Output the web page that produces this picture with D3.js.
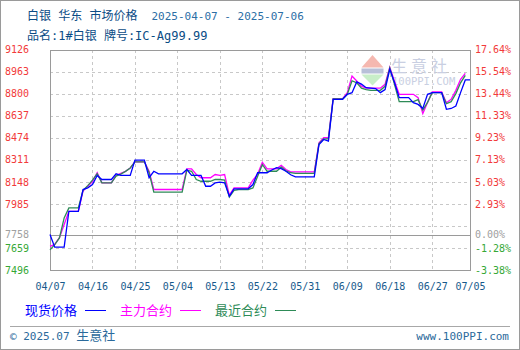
<!DOCTYPE html>
<html>
<head>
<meta charset="utf-8">
<script src="https://cdn.jsdelivr.net/npm/d3@7"></script>
<style>
  body { margin: 0; background: #fff; }
  text { font-family: "DejaVu Sans Mono", "Noto Sans CJK SC", monospace; }
</style>
</head>
<body>
<div id="chart"></div>
<script>
// 现货价格 (spot)
const spotPrice = [
  ["04-07", 7758], ["04-08", 7665], ["04-10", 7665], ["04-11", 7930], ["04-13", 7930],
  ["04-14", 8091], ["04-15", 8103], ["04-16", 8128], ["04-17", 8195], ["04-18", 8165],
  ["04-20", 8165], ["04-21", 8207], ["04-22", 8195], ["04-24", 8195], ["04-25", 8308],
  ["04-27", 8308], ["04-28", 8178], ["04-29", 8226], ["04-30", 8207], ["05-05", 8207],
  ["05-06", 8239], ["05-07", 8195], ["05-09", 8195], ["05-10", 8115], ["05-11", 8115],
  ["05-12", 8140], ["05-13", 8145], ["05-14", 8140], ["05-15", 8041], ["05-16", 8096],
  ["05-19", 8096], ["05-20", 8128], ["05-21", 8215], ["05-23", 8215], ["05-24", 8235],
  ["05-25", 8252], ["05-26", 8245], ["05-27", 8226], ["05-28", 8200], ["05-29", 8185],
  ["06-02", 8185], ["06-03", 8424], ["06-04", 8461], ["06-05", 8449], ["06-06", 8758],
  ["06-08", 8758], ["06-09", 8795], ["06-10", 8807], ["06-11", 8886], ["06-12", 8870],
  ["06-13", 8844], ["06-15", 8837], ["06-16", 8807], ["06-17", 8830], ["06-18", 8980],
  ["06-19", 8882], ["06-20", 8770], ["06-22", 8770], ["06-23", 8733], ["06-24", 8720],
  ["06-25", 8690], ["06-26", 8795], ["06-27", 8807], ["06-29", 8807], ["06-30", 8684],
  ["07-01", 8690], ["07-02", 8708], ["07-03", 8807], ["07-04", 8901], ["07-05", 8901]
]

// 主力合约 (main contract)
const mainContract = [
  ["04-07", 7671], ["04-08", 7685], ["04-09", 7735], ["04-10", 7832], ["04-11", 7930],
  ["04-13", 7930], ["04-14", 8080], ["04-15", 8115], ["04-16", 8150], ["04-17", 8215],
  ["04-18", 8140], ["04-20", 8140], ["04-21", 8195], ["04-22", 8210], ["04-23", 8225],
  ["04-24", 8250], ["04-25", 8296], ["04-27", 8296], ["04-28", 8226], ["04-29", 8091],
  ["05-05", 8091], ["05-06", 8244], ["05-07", 8244], ["05-08", 8202], ["05-09", 8178],
  ["05-11", 8178], ["05-12", 8202], ["05-13", 8195], ["05-14", 8202], ["05-15", 8050],
  ["05-16", 8103], ["05-19", 8103], ["05-20", 8160], ["05-21", 8205], ["05-22", 8292],
  ["05-23", 8244], ["05-25", 8244], ["05-26", 8269], ["05-27", 8239], ["05-28", 8222],
  ["06-02", 8222], ["06-03", 8437], ["06-04", 8474], ["06-05", 8474], ["06-06", 8763],
  ["06-08", 8763], ["06-09", 8807], ["06-10", 8930], ["06-11", 8893], ["06-12", 8854],
  ["06-13", 8840], ["06-16", 8840], ["06-17", 8869], ["06-18", 8995], ["06-19", 8891],
  ["06-20", 8795], ["06-23", 8795], ["06-24", 8770], ["06-25", 8652], ["06-26", 8735],
  ["06-27", 8812], ["06-29", 8812], ["06-30", 8733], ["07-01", 8758], ["07-02", 8824],
  ["07-03", 8906], ["07-04", 8950]
]

// 最近合约 (nearest contract)
const nearContract = [
  ["04-07", 7645], ["04-08", 7683], ["04-09", 7733], ["04-10", 7881], ["04-11", 7955],
  ["04-13", 7955], ["04-14", 8085], ["04-15", 8120], ["04-16", 8160], ["04-17", 8207],
  ["04-18", 8140], ["04-20", 8140], ["04-21", 8190], ["04-22", 8205], ["04-23", 8225],
  ["04-24", 8250], ["04-25", 8296], ["04-27", 8296], ["04-28", 8215], ["04-29", 8071],
  ["05-05", 8071], ["05-06", 8234], ["05-07", 8226], ["05-08", 8165], ["05-09", 8152],
  ["05-11", 8152], ["05-12", 8165], ["05-13", 8165], ["05-14", 8160], ["05-15", 8035],
  ["05-16", 8085], ["05-17", 8091], ["05-19", 8091], ["05-20", 8103], ["05-21", 8189],
  ["05-22", 8276], ["05-23", 8226], ["05-25", 8226], ["05-26", 8256], ["05-27", 8229],
  ["05-28", 8215], ["05-29", 8210], ["06-02", 8210], ["06-03", 8430], ["06-04", 8465],
  ["06-05", 8465], ["06-06", 8760], ["06-08", 8760], ["06-09", 8795], ["06-10", 8895],
  ["06-11", 8880], ["06-12", 8840], ["06-13", 8830], ["06-14", 8824], ["06-16", 8824],
  ["06-17", 8854], ["06-18", 8990], ["06-19", 8869], ["06-20", 8740], ["06-23", 8740],
  ["06-24", 8755], ["06-25", 8678], ["06-26", 8735], ["06-27", 8807], ["06-29", 8807],
  ["06-30", 8725], ["07-01", 8740], ["07-02", 8800], ["07-03", 8880], ["07-04", 8935]
]

const basePrice = 7758
const leftTicks = [9126, 8963, 8800, 8637, 8474, 8311, 8148, 7985, 7758, 7659, 7496]
const rightTicks = ["17.64%", "15.54%", "13.44%", "11.33%", "9.23%", "7.13%", "5.03%", "2.93%", "0.00%", "-1.28%", "-3.38%"]
const gridValues = [8963, 8800, 8637, 8474, 8311, 8148, 7985, 7822, 7659]
const xTickLabels = ["04/07", "04/16", "04/25", "05/04", "05/13", "05/22", "05/31", "06/09", "06/18", "06/27", "07/05"]

const legendItems = [
  { name: "现货价格", color: "#0000ff", data: spotPrice },
  { name: "主力合约", color: "#ff00ff", data: mainContract },
  { name: "最近合约", color: "#2e8b57", data: nearContract }
]

const width = 520, height = 350
const plot = { left: 50, right: 470, top: 49.5, bottom: 270 }

const parseDay = d3.timeParse("%Y-%m-%d")
const parseTick = d3.timeParse("%Y/%m/%d")
const tickDates = xTickLabels.map(s => parseTick("2025/" + s))

const x = d3.scaleTime()
  .domain([tickDates[0], tickDates[tickDates.length - 1]])
  .range([plot.left, plot.right])

const y = d3.scaleLinear()
  .domain([7496, 9126])
  .range([plot.bottom, plot.top])

const svg = d3.select("#chart").append("svg")
  .attr("width", width)
  .attr("height", height)

// outer frame
svg.append("rect")
  .attr("x", 0.5).attr("y", 0.5)
  .attr("width", width - 1).attr("height", height - 1)
  .attr("fill", "#fff").attr("stroke", "#9a9a9a")

// title
svg.append("text")
  .attr("x", 27).attr("y", 20)
  .attr("font-size", 12).attr("fill", "#0a4c85")
  .text("白银 华东 市场价格")
svg.append("text")
  .attr("x", 151.5).attr("y", 20)
  .attr("font-size", 11).attr("fill", "#2c6ea5")
  .text("2025-04-07 - 2025-07-06")
svg.append("text")
  .attr("x", 27).attr("y", 39.5)
  .attr("font-size", 12).attr("fill", "#0a4c85")
  .text("品名:1#白银 牌号:IC-Ag99.99")

// grid
const grid = svg.append("g")
  .attr("stroke", "#c8c8c8")
  .attr("stroke-dasharray", "3,3")
  .attr("shape-rendering", "crispEdges")

grid.selectAll(".hg")
  .data(gridValues)
  .join("line")
  .attr("x1", plot.left).attr("x2", plot.right)
  .attr("y1", d => Math.round(y(d)) + 0.5)
  .attr("y2", d => Math.round(y(d)) + 0.5)

grid.selectAll(".vg")
  .data(tickDates.slice(1, -1))
  .join("line")
  .attr("x1", d => Math.round(x(d)) + 0.5)
  .attr("x2", d => Math.round(x(d)) + 0.5)
  .attr("y1", plot.top).attr("y2", plot.bottom)

// base line (0%)
svg.append("line")
  .attr("x1", plot.left).attr("x2", plot.right)
  .attr("y1", Math.round(y(basePrice)) + 0.5)
  .attr("y2", Math.round(y(basePrice)) + 0.5)
  .attr("stroke", "#9a9a9a")
  .attr("shape-rendering", "crispEdges")

// watermark
const wm = svg.append("g")
wm.append("path")
  .attr("d", "M361.5,67.5 L372.5,55 L383.5,67.5 Z")
  .attr("fill", "#f5b8b0")
wm.append("rect")
  .attr("x", 361.5).attr("y", 68.5).attr("width", 22).attr("height", 5)
  .attr("fill", "#b8c0d8")
wm.append("path")
  .attr("d", "M361.5,74.5 L383.5,74.5 L372.5,85.5 Z")
  .attr("fill", "#c8eec8")
wm.append("text")
  .attr("x", 391).attr("y", 71.5)
  .attr("font-family", "Noto Sans CJK SC")
  .attr("font-size", 16).attr("letter-spacing", 4)
  .attr("fill", "#c9cfe2")
  .text("生意社")
wm.append("text")
  .attr("x", 392).attr("y", 85)
  .attr("font-family", "Liberation Sans")
  .attr("font-size", 10.5)
  .attr("fill", "#c9cfe2")
  .text("100PPI.COM")

// plot border
svg.append("rect")
  .attr("x", plot.left + 0.5).attr("y", Math.round(plot.top) + 0.5)
  .attr("width", plot.right - plot.left)
  .attr("height", plot.bottom - Math.round(plot.top))
  .attr("fill", "none").attr("stroke", "#9a9a9a")
  .attr("shape-rendering", "crispEdges")

// series
const line = d3.line()
  .x(d => x(parseDay("2025-" + d[0])))
  .y(d => y(d[1]))

const drawOrder = [legendItems[1], legendItems[2], legendItems[0]]
svg.selectAll(".series")
  .data(drawOrder)
  .join("path")
  .attr("fill", "none")
  .attr("stroke", d => d.color)
  .attr("stroke-width", 1.3)
  .attr("d", d => line(d.data))

const tickColor = v => v > basePrice ? "#f23a3a" : (v === basePrice ? "#a0a0a0" : "#36a836")

// left axis
const yLeft = svg.append("g")
  .attr("transform", `translate(${plot.left},0)`)
  .call(d3.axisLeft(y).tickValues(leftTicks).tickSize(0).tickPadding(21)
    .tickFormat(d3.format("d")))
yLeft.select(".domain").remove()
yLeft.selectAll("text")
  .attr("font-family", "DejaVu Sans Mono")
  .attr("font-size", 10)
  .attr("fill", d => tickColor(d))

// right axis
const yRight = svg.append("g")
  .attr("transform", `translate(${plot.right},0)`)
  .call(d3.axisRight(y).tickValues(leftTicks).tickSize(0).tickPadding(5)
    .tickFormat((d, i) => rightTicks[i]))
yRight.select(".domain").remove()
yRight.selectAll("text")
  .attr("font-family", "DejaVu Sans Mono")
  .attr("font-size", 10)
  .attr("fill", d => tickColor(d))

// bottom axis
const xAxis = svg.append("g")
  .attr("transform", `translate(0,${plot.bottom})`)
  .call(d3.axisBottom(x).tickValues(tickDates).tickSize(0).tickPadding(13)
    .tickFormat(d3.timeFormat("%m/%d")))
xAxis.select(".domain").remove()
xAxis.selectAll("text")
  .attr("font-family", "DejaVu Sans Mono")
  .attr("font-size", 10)
  .attr("fill", "#175a8c")

// legend
const legendX = [25, 120, 215]
const legend = svg.selectAll(".legend")
  .data(legendItems)
  .join("g")
  .attr("transform", (d, i) => `translate(${legendX[i]},0)`)
legend.append("text")
  .attr("x", 0).attr("y", 315)
  .attr("font-family", "Noto Sans CJK SC")
  .attr("font-size", 13)
  .attr("fill", d => d.color)
  .text(d => d.name)
legend.append("line")
  .attr("x1", 60).attr("x2", 81)
  .attr("y1", 310.5).attr("y2", 310.5)
  .attr("stroke", d => d.color)
  .attr("shape-rendering", "crispEdges")

// footer
svg.append("line")
  .attr("x1", 10).attr("x2", 510)
  .attr("y1", 326.5).attr("y2", 326.5)
  .attr("stroke", "#a8a8a8")
  .attr("shape-rendering", "crispEdges")

const foot = svg.append("text")
  .attr("x", 10).attr("y", 340)
  .attr("font-size", 11).attr("fill", "#2b6a9b")
foot.append("tspan").text("© 2025.07 ")
foot.append("tspan")
  .attr("font-family", "Noto Sans CJK SC")
  .attr("font-size", 13)
  .text("生意社")

svg.append("text")
  .attr("x", 509).attr("y", 340)
  .attr("text-anchor", "end")
  .attr("font-family", "Liberation Mono")
  .attr("font-size", 11).attr("fill", "#2b6a9b")
  .text("www.100PPI.com")
</script>
</body>
</html>
